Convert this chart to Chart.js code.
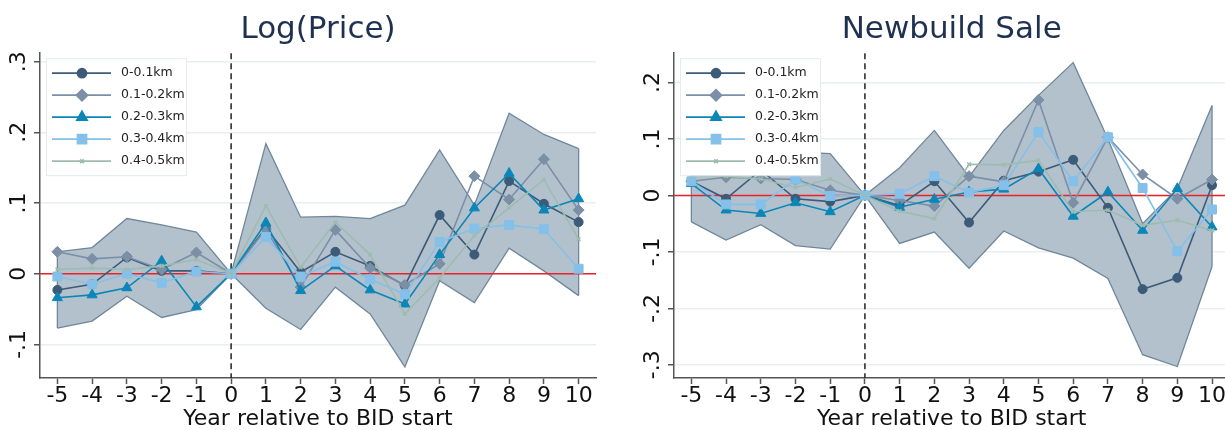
<!DOCTYPE html>
<html>
<head>
<meta charset="utf-8">
<script src="https://cdn.jsdelivr.net/npm/chart.js@4.4.1/dist/chart.umd.min.js"></script>
<style>
  html, body { margin: 0; padding: 0; background: #fff; overflow: hidden; }
  #wrap { position: relative; width: 1225px; height: 430px; overflow: hidden; }
  canvas { position: absolute; top: 0; }
</style>
</head>
<body>
<div id="wrap">
  <canvas id="priceChart" width="612" height="430" style="left:0"></canvas>
  <canvas id="newbuildChart" width="640" height="430" style="left:612px"></canvas>
</div>
<script>
// x axis: years relative to BID start
const years = [-5, -4, -3, -2, -1, 0, 1, 2, 3, 4, 5, 6, 7, 8, 9, 10];

// Log(Price) estimates by distance band
const price01 = [-0.023, -0.015, 0.023, 0.004, 0.004, 0, 0.065, 0.002, 0.031, 0.011, -0.017, 0.083, 0.027, 0.131, 0.099, 0.073];
const price12 = [0.031, 0.021, 0.024, 0.006, 0.030, 0, 0.063, -0.019, 0.062, 0.008, -0.016, 0.014, 0.138, 0.105, 0.162, 0.090];
const price23 = [-0.034, -0.030, -0.020, 0.018, -0.047, 0, 0.072, -0.024, 0.011, -0.023, -0.043, 0.027, 0.093, 0.142, 0.090, 0.106];
const price34 = [-0.004, -0.015, 0.000, -0.013, 0.003, 0, 0.052, -0.004, 0.017, -0.008, -0.029, 0.045, 0.064, 0.069, 0.063, 0.007];
const price45 = [0.006, 0.008, 0.006, 0.011, 0.020, 0, 0.096, 0.009, 0.073, 0.027, -0.057, -0.006, 0.054, 0.093, 0.133, 0.049];
// confidence band (0-0.1km)
const priceLow  = [-0.077, -0.067, -0.032, -0.062, -0.051, 0, -0.049, -0.079, -0.019, -0.057, -0.132, -0.010, -0.041, 0.036, 0.004, -0.031];
const priceHigh = [0.031, 0.037, 0.078, 0.069, 0.059, 0, 0.184, 0.080, 0.081, 0.078, 0.097, 0.175, 0.097, 0.227, 0.197, 0.177];

// Newbuild Sale estimates by distance band
const newb01 = [0.025, -0.006, 0.045, -0.006, -0.011, 0, -0.018, 0.025, -0.048, 0.026, 0.042, 0.063, -0.022, -0.166, -0.146, 0.018];
const newb12 = [0.025, 0.032, 0.030, 0.028, 0.009, 0, -0.009, -0.019, 0.034, 0.024, 0.169, -0.013, 0.103, 0.037, -0.006, 0.028];
const newb23 = [0.021, -0.026, -0.032, -0.013, -0.029, 0, -0.021, -0.007, 0.006, 0.011, 0.047, -0.037, 0.006, -0.062, 0.012, -0.056];
const newb34 = [0.025, -0.016, -0.016, 0.028, -0.001, 0, 0.003, 0.034, 0.005, 0.018, 0.112, 0.025, 0.103, 0.013, -0.099, -0.025];
const newb45 = [0.035, 0.034, 0.029, 0.014, 0.029, 0, -0.028, -0.041, 0.055, 0.054, 0.062, -0.029, -0.026, -0.053, -0.044, -0.062];
const newbLow  = [-0.047, -0.079, -0.052, -0.089, -0.095, 0, -0.085, -0.065, -0.129, -0.063, -0.093, -0.111, -0.147, -0.282, -0.303, -0.126];
const newbHigh = [0.097, 0.067, 0.142, 0.077, 0.074, 0, 0.049, 0.115, 0.033, 0.115, 0.177, 0.235, 0.100, -0.050, 0.012, 0.159];

const seriesNames = ['0-0.1km', '0.1-0.2km', '0.2-0.3km', '0.3-0.4km', '0.4-0.5km'];

const priceYTicks = [-0.1, 0, 0.1, 0.2, 0.3];
const priceYLabels = ['-.1', '0', '.1', '.2', '.3'];
const newbYTicks = [-0.3, -0.2, -0.1, 0, 0.1, 0.2];
const newbYLabels = ['-.3', '-.2', '-.1', '0', '.1', '.2'];

// styles
const FONT = 'DejaVu Sans';
const seriesColors = ['#3c5b78', '#7b8fa6', '#0b86b8', '#84c0e9', '#9dbcae'];
const seriesMarkers = ['circle', 'rectRot', 'triangle', 'rect', 'crossRot'];
const markerSizes = [4.5, 5.5, 5.8, 6.3, 2.6];
const BAND_FILL = '#b3c1cd';
const BAND_EDGE = '#6f879b';

function xy(vals) {
  return vals.map((v, i) => ({ x: years[i], y: v }));
}

// reference lines + band end edges, drawn right after the band
const refLines = {
  id: 'refLines',
  afterDatasetDraw(chart, args) {
    if (args.index !== 5) return;
    const ctx = chart.ctx;
    const { left, right, top, bottom } = chart.chartArea;
    const hi = chart.getDatasetMeta(5).data;
    const lo = chart.getDatasetMeta(6).data;
    ctx.save();
    ctx.strokeStyle = BAND_EDGE;
    ctx.lineWidth = 1.3;
    [0, hi.length - 1].forEach(i => {
      ctx.beginPath();
      ctx.moveTo(hi[i].x, hi[i].y);
      ctx.lineTo(lo[i].x, lo[i].y);
      ctx.stroke();
    });
    const y0 = chart.scales.y.getPixelForValue(0);
    ctx.strokeStyle = '#e8232b';
    ctx.lineWidth = 1.5;
    ctx.beginPath();
    ctx.moveTo(left, y0);
    ctx.lineTo(right, y0);
    ctx.stroke();
    const x0 = chart.scales.x.getPixelForValue(0);
    ctx.strokeStyle = '#222';
    ctx.setLineDash([6, 4]);
    ctx.beginPath();
    ctx.moveTo(x0, top);
    ctx.lineTo(x0, bottom);
    ctx.stroke();
    ctx.restore();
  }
};

// legend inside the plot, top-left
const insideLegend = {
  id: 'insideLegend',
  afterDatasetsDraw(chart) {
    const ctx = chart.ctx;
    const bx = chart.chartArea.left + 6;
    const by = chart.chartArea.top + 5;
    ctx.save();
    ctx.fillStyle = '#fff';
    ctx.strokeStyle = '#e3ebee';
    ctx.lineWidth = 1;
    ctx.fillRect(bx, by, 140, 117);
    ctx.strokeRect(bx + 0.5, by + 0.5, 140, 117);
    for (let i = 0; i < 5; i++) {
      const ds = chart.data.datasets[i];
      const ry = by + 15 + i * 22;
      ctx.strokeStyle = ds.borderColor;
      ctx.lineWidth = 1.8;
      ctx.beginPath();
      ctx.moveTo(bx + 6, ry);
      ctx.lineTo(bx + 65, ry);
      ctx.stroke();
      ctx.fillStyle = ds.pointBackgroundColor;
      ctx.strokeStyle = ds.pointBorderColor;
      Chart.helpers.drawPoint(ctx, {
        pointStyle: ds.pointStyle, radius: ds.pointRadius, rotation: 0, borderWidth: ds.pointBorderWidth
      }, bx + 36, ry);
      ctx.fillStyle = '#222';
      ctx.font = '12.5px ' + FONT;
      ctx.textAlign = 'left';
      ctx.textBaseline = 'middle';
      ctx.fillText(ds.label, bx + 75, ry);
    }
    ctx.restore();
  }
};

// vertical (rotated) y tick labels
const yLabelsPlugin = {
  id: 'yLabels',
  afterDraw(chart, args, opts) {
    const ctx = chart.ctx;
    const ys = chart.scales.y;
    ctx.save();
    ctx.fillStyle = '#111';
    ctx.font = '22px ' + FONT;
    ctx.textAlign = 'center';
    ctx.textBaseline = 'alphabetic';
    opts.values.forEach((v, i) => {
      ctx.save();
      ctx.translate(chart.chartArea.left - 15.5, ys.getPixelForValue(v));
      ctx.rotate(-Math.PI / 2);
      ctx.fillText(opts.labels[i], 0, 0);
      ctx.restore();
    });
    ctx.restore();
  }
};

function buildChart(id, title, series, low, high, yTicks, yLabels, yMin, yMax, xMax, padding) {
  const datasets = series.map((vals, i) => ({
    label: seriesNames[i],
    data: xy(vals),
    borderColor: seriesColors[i],
    backgroundColor: seriesColors[i],
    borderWidth: 1.6,
    pointStyle: seriesMarkers[i],
    pointRadius: markerSizes[i],
    pointBackgroundColor: seriesColors[i],
    pointBorderColor: seriesColors[i],
    pointBorderWidth: i === 4 ? 1.5 : 1,
    tension: 0,
    fill: false,
    order: 10 - i
  }));
  datasets.push({
    label: 'upper', data: xy(high), borderColor: BAND_EDGE, borderWidth: 1.3,
    backgroundColor: BAND_FILL, pointRadius: 0, fill: '+1', order: 20
  });
  datasets.push({
    label: 'lower', data: xy(low), borderColor: BAND_EDGE, borderWidth: 1.3,
    pointRadius: 0, fill: false, order: 20
  });

  return new Chart(document.getElementById(id), {
    type: 'line',
    data: { datasets },
    options: {
      responsive: false,
      animation: false,
      layout: { padding },
      plugins: {
        legend: { display: false },
        tooltip: { enabled: false },
        filler: { drawTime: 'beforeDatasetsDraw' },
        title: {
          display: true, text: title, fullSize: false, color: '#1f3151',
          font: { family: FONT, size: 31, weight: 'normal', lineHeight: 1.2 },
          padding: { top: 11, bottom: 5 }
        },
        yLabels: { values: yTicks, labels: yLabels }
      },
      scales: {
        x: {
          type: 'linear', min: -5.5, max: xMax,
          afterBuildTicks: s => { s.ticks = years.map(v => ({ value: v })); },
          grid: { drawOnChartArea: false, drawTicks: true, tickLength: 6, tickColor: '#555', tickWidth: 1.5 },
          border: { color: '#555', width: 1.5 },
          ticks: {
            color: '#111', autoSkip: false, maxRotation: 0, padding: 1,
            font: { family: FONT, size: 22, lineHeight: 1 },
            callback: v => String(v)
          },
          title: {
            display: true, text: 'Year relative to BID start', color: '#111',
            font: { family: FONT, size: 22, lineHeight: 1 }, padding: { top: 0, bottom: 0 }
          }
        },
        y: {
          min: yMin, max: yMax,
          afterBuildTicks: s => { s.ticks = yTicks.map(v => ({ value: v })); },
          grid: { color: '#e8eff0', lineWidth: 1.5, drawTicks: true, tickLength: 6, tickColor: '#555', tickWidth: 1.5 },
          border: { color: '#555', width: 1.5 },
          ticks: { display: false }
        }
      }
    },
    plugins: [refLines, insideLegend, yLabelsPlugin]
  });
}

function initCharts() {
  buildChart('priceChart', 'Log(Price)',
    [price01, price12, price23, price34, price45], priceLow, priceHigh,
    priceYTicks, priceYLabels, -0.1476, 0.312, 10.5,
    { left: 34, right: 16, top: 0, bottom: 0 });
  buildChart('newbuildChart', 'Newbuild Sale',
    [newb01, newb12, newb23, newb34, newb45], newbLow, newbHigh,
    newbYTicks, newbYLabels, -0.3233, 0.2517, 10.5,
    { left: 56, right: 22.6, top: 0, bottom: 0 });
}

if (document.readyState === 'loading') {
  document.addEventListener('DOMContentLoaded', initCharts);
} else {
  initCharts();
}
</script>
</body>
</html>
